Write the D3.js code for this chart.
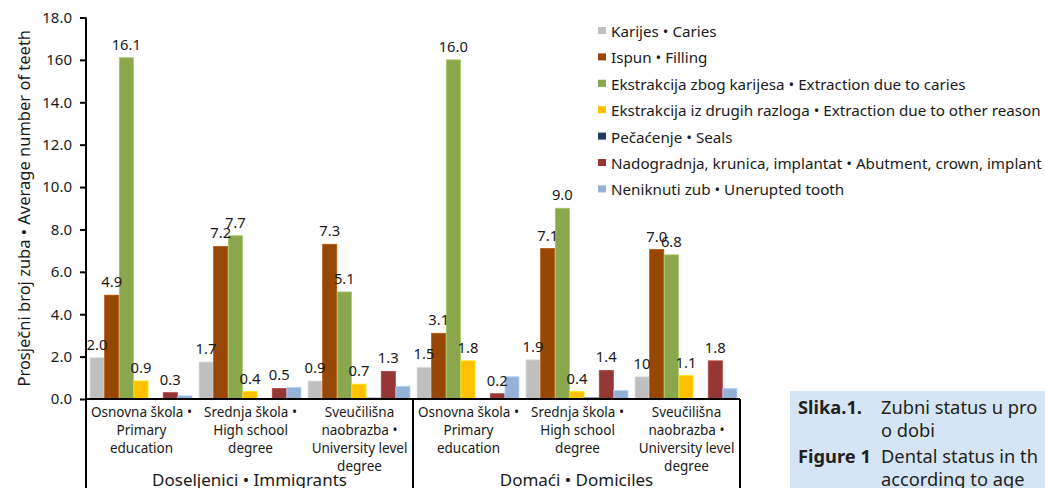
<!DOCTYPE html>
<html>
<head>
<meta charset="utf-8">
<script src="https://cdn.jsdelivr.net/npm/d3@7"></script>
<style>
  body { margin:0; background:#fff; }
  svg { display:block; font-family: "Noto Sans", "Open Sans", sans-serif; fill:#1a1a1a; }
  .tick text { font-size:15px; fill:#1a1a1a; }
  .barLabel { font-size:14.8px; }
  .legendEntry text { font-size:15.2px; }
  .catLabel { font-size:13.5px; }
  .groupLabel { font-size:17px; }
  .caption { font-size:18.3px; fill:#231f20; }
</style>
</head>
<body>
<svg></svg>
<script>
// categories (line-broken as in the picture) and their groups
var categoryLines = [
    ["Osnovna škola •","Primary","education"],
    ["Srednja škola •","High school","degree"],
    ["Sveučilišna","naobrazba •","University level","degree"],
    ["Osnovna škola •","Primary","education"],
    ["Srednja škola •","High school","degree"],
    ["Sveučilišna","naobrazba •","University level","degree"]
]
var groups = ["Doseljenici • Immigrants","Domaći • Domiciles"]

var seriesNames = [
    "Karijes • Caries",
    "Ispun • Filling",
    "Ekstrakcija zbog karijesa • Extraction due to caries",
    "Ekstrakcija iz drugih razloga • Extraction due to other reason",
    "Pečaćenje • Seals",
    "Nadogradnja, krunica, implantat • Abutment, crown, implant",
    "Neniknuti zub • Unerupted tooth"
]
var seriesColors = ["#BFBFBF","#974706","#8BA74E","#FFC000","#1F3864","#953735","#95B1D6"]

// bar heights
var caries    = [1.95, 1.75, 0.85, 1.5, 1.85, 1.05]
var filling   = [4.9, 7.2, 7.3, 3.1, 7.1, 7.05]
var extCaries = [16.1, 7.7, 5.05, 16.0, 9.0, 6.8]
var extOther  = [0.85, 0.35, 0.7, 1.8, 0.35, 1.1]
var seals     = [0, 0, 0.04, 0, 0.05, 0]
var abutment  = [0.3, 0.5, 1.3, 0.25, 1.35, 1.8]
var unerupted = [0.15, 0.55, 0.6, 1.05, 0.4, 0.5]

// data labels as printed (null = no label)
var cariesLabels    = ["2.0","1.7","0.9","1.5","1.9","10"]
var fillingLabels   = ["4.9","7.2","7.3","3.1","7.1","7.0"]
var extCariesLabels = ["16.1","7.7","5.1","16.0","9.0","6.8"]
var extOtherLabels  = ["0.9","0.4","0.7","1.8","0.4","1.1"]
var sealsLabels     = null
var abutmentLabels  = ["0.3","0.5","1.3","0.2","1.4","1.8"]
var uneruptedLabels = null

var tickValues = [0,2,4,6,8,10,12,14,16,18]
var tickLabels = ["0.0","2.0","4.0","6.0","8.0","10.0","12.0","14.0","160","18.0"]

var captionRows = [
    {bold:"Slika.1.", text:["Zubni status u pro","o dobi"]},
    {bold:"Figure 1", text:["Dental status in th","according to age"]}
]

var seriesValues = [caries,filling,extCaries,extOther,seals,abutment,unerupted]
var seriesLabels = [cariesLabels,fillingLabels,extCariesLabels,extOtherLabels,sealsLabels,abutmentLabels,uneruptedLabels]

var screen = {width:1045,height:488}
var plot = {left:86,right:740,top:17.5,bottom:399}

var svg = d3.select("svg")
    .attr("width",screen.width)
    .attr("height",screen.height)

var catIndex = d3.range(categoryLines.length)

var xScale = d3.scaleBand()
    .domain(catIndex)
    .range([plot.left,plot.right])

var xInner = d3.scaleBand()
    .domain(d3.range(seriesNames.length))
    .range([4,xScale.bandwidth()-3])
    .paddingInner(0.04)

var yScale = d3.scaleLinear()
    .domain([0,18])
    .range([plot.bottom,plot.top])

//Bars
var bars = svg.append("g").classed("bars",true)
seriesValues.forEach(function(values,s)
{
    bars.append("g")
        .selectAll("rect")
        .data(values)
        .enter()
        .append("rect")
        .attr("x",function(v,i){return xScale(i)+xInner(s)})
        .attr("y",function(v){return yScale(v)})
        .attr("width",xInner.bandwidth())
        .attr("height",function(v){return plot.bottom-yScale(v)})
        .attr("fill",seriesColors[s])
        .attr("stroke",d3.color(seriesColors[s]).brighter(0.5))
        .attr("stroke-width",0.8)
})

//Labels on bars
var labels = svg.append("g").classed("labels",true)
seriesValues.forEach(function(values,s)
{
    if(!seriesLabels[s]) return;
    labels.append("g")
        .selectAll("text")
        .data(values)
        .enter()
        .append("text")
        .classed("barLabel",true)
        .attr("text-anchor","middle")
        .attr("x",function(v,i){return xScale(i)+xInner(s)+xInner.bandwidth()/2})
        .attr("y",function(v){return yScale(v)-8})
        .text(function(v,i){return seriesLabels[s][i]})
})

//Axes
var yAxis = d3.axisLeft(yScale)
    .tickValues(tickValues)
    .tickFormat(function(d,i){return tickLabels[i]})
    .tickSize(6)
    .tickPadding(8)

var ya = svg.append("g")
    .attr("transform","translate("+plot.left+",0)")
    .call(yAxis)
ya.select(".domain").attr("stroke","#000").attr("stroke-width",2)
    .attr("d","M0,"+plot.top+"V"+plot.bottom)
ya.selectAll(".tick line").attr("stroke","#000").attr("stroke-width",2)
ya.attr("font-size",null).attr("font-family",null)

// x baseline and group frame
var frame = svg.append("g").attr("stroke","#000").attr("stroke-width",2)
frame.append("line")
    .attr("x1",plot.left).attr("x2",plot.right)
    .attr("y1",plot.bottom).attr("y2",plot.bottom)
var groupEdges = [0,3,6]
frame.selectAll(".edge")
    .data(groupEdges)
    .enter()
    .append("line")
    .attr("x1",function(i){return i<6 ? xScale(i) : plot.right})
    .attr("x2",function(i){return i<6 ? xScale(i) : plot.right})
    .attr("y1",plot.bottom)
    .attr("y2",screen.height)

// category labels
var cats = svg.append("g")
cats.selectAll("text")
    .data(categoryLines)
    .enter()
    .append("text")
    .classed("catLabel",true)
    .attr("text-anchor","middle")
    .each(function(lines,i)
    {
        d3.select(this).selectAll("tspan")
            .data(lines)
            .enter()
            .append("tspan")
            .attr("x",xScale(i)+xScale.bandwidth()/2+1)
            .attr("y",function(l,k){return 417+k*18})
            .text(function(l){return l})
    })

// group labels
svg.append("g")
    .selectAll("text")
    .data(groups)
    .enter()
    .append("text")
    .classed("groupLabel",true)
    .attr("text-anchor","middle")
    .attr("x",function(g,i){return (xScale(i*3)+ (i==0 ? xScale(3) : plot.right))/2})
    .attr("y",486)
    .text(function(g){return g})

// y title
svg.append("g")
    .attr("transform","translate(30,"+((plot.top+plot.bottom)/2)+")")
    .append("text")
    .text("Prosječni broj zuba • Average number of teeth")
    .attr("text-anchor","middle")
    .attr("font-size","16.5px")
    .attr("transform","rotate(270)")

//Legend
var legend = svg.append("g")
    .classed("legend",true)
    .attr("transform","translate(598,32)")
var entries = legend.selectAll("g")
    .data(seriesNames)
    .enter()
    .append("g")
    .classed("legendEntry",true)
    .attr("transform",function(n,i){return "translate(0,"+i*26.4+")"})
entries.append("rect")
    .attr("y",-5)
    .attr("width",8)
    .attr("height",7)
    .attr("fill",function(n,i){return seriesColors[i]})
entries.append("text")
    .attr("x",13)
    .attr("y",5)
    .text(function(n){return n})

// caption box
var cap = svg.append("g")
cap.append("rect")
    .attr("x",790).attr("y",391)
    .attr("width",screen.width-790).attr("height",screen.height-391)
    .attr("fill","#D6E5F5")
captionRows.forEach(function(row,r)
{
    var y0 = 414+r*49
    cap.append("text").classed("caption",true)
        .attr("x",798).attr("y",y0)
        .attr("font-weight","bold")
        .text(row.bold)
    row.text.forEach(function(t,k)
    {
        cap.append("text").classed("caption",true)
            .attr("x",881).attr("y",y0+k*23)
            .text(t)
    })
})
</script>
</body>
</html>
